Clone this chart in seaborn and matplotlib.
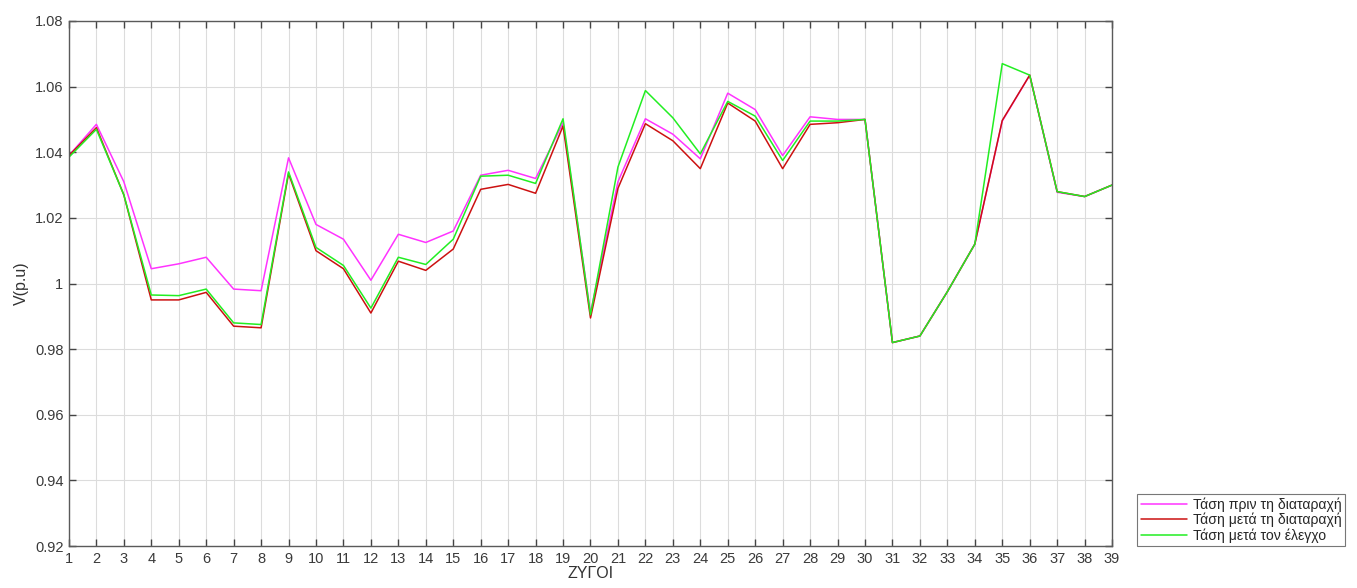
import numpy as np
import pandas as pd
import matplotlib
matplotlib.use("Agg")
import matplotlib.pyplot as plt
import matplotlib.ticker as mticker
import seaborn as sns

# ---- data ----
buses = list(range(1, 40))

v_before = [1.039, 1.0485, 1.031, 1.0045, 1.006, 1.008, 0.9983, 0.9978, 1.0383, 1.018,
            1.0135, 1.001, 1.015, 1.0125, 1.016, 1.033, 1.0345, 1.032, 1.049, 0.991,
            1.031, 1.0502, 1.0455, 1.038, 1.058, 1.053, 1.039, 1.0508, 1.050, 1.050,
            0.982, 0.984, 0.9975, 1.012, 1.0495, 1.0635, 1.0278, 1.0265, 1.030]

v_after = [1.039, 1.0475, 1.027, 0.995, 0.995, 0.9973, 0.987, 0.9865, 1.0335, 1.010,
           1.0045, 0.991, 1.0068, 1.004, 1.0105, 1.0287, 1.0302, 1.0275, 1.048, 0.9895,
           1.029, 1.0487, 1.0435, 1.035, 1.055, 1.0495, 1.035, 1.0485, 1.049, 1.050,
           0.982, 0.984, 0.9975, 1.012, 1.0497, 1.0635, 1.028, 1.0265, 1.030]

v_control = [1.0385, 1.047, 1.027, 0.9965, 0.9963, 0.9983, 0.988, 0.9875, 1.034, 1.011,
             1.0055, 0.9925, 1.008, 1.0058, 1.0135, 1.0327, 1.033, 1.0305, 1.0502, 0.9905,
             1.0355, 1.0588, 1.0505, 1.0395, 1.0555, 1.051, 1.0375, 1.0495, 1.0495, 1.050,
             0.982, 0.984, 0.9975, 1.012, 1.067, 1.0635, 1.028, 1.0265, 1.030]

labels = ["Τάση πριν τη διαταραχή", "Τάση μετά τη διαταραχή", "Τάση μετά τον έλεγχο"]
colors = ["#ff33ff", "#cc1111", "#22ee22"]

df = pd.DataFrame({
    "bus": buses * 3,
    "V": v_before + v_after + v_control,
    "series": [labels[0]] * 39 + [labels[1]] * 39 + [labels[2]] * 39,
})

# ---- style ----
sns.set_style("whitegrid")
plt.rcParams["font.family"] = ["Liberation Sans", "DejaVu Sans"]

fig = plt.figure(figsize=(13.57, 5.88), dpi=100)
ax = fig.add_axes([0.0508, 0.0714, 0.7687, 0.8929])

sns.lineplot(data=df, x="bus", y="V", hue="series", hue_order=labels,
             palette=colors, linewidth=1.1, ax=ax, legend=True)

ax.set_xlim(1, 39)
ax.set_ylim(0.92, 1.08)
ax.set_xticks(buses)
ax.set_yticks(np.arange(0.92, 1.0801, 0.02))
ax.yaxis.set_major_formatter(mticker.FuncFormatter(lambda v, p: "%g" % round(v, 2)))

ax.grid(True, color="#dcdcdc", linewidth=0.8)
for s in ax.spines.values():
    s.set_color("#5a5a5a")
    s.set_linewidth(1.0)
    s.set_visible(True)

ax.tick_params(axis="both", direction="in", length=5, width=1, color="#444444",
               labelsize=10.5, labelcolor="#3a3a3a", top=True, right=True,
               bottom=True, left=True, pad=4)

ax.set_xlabel("ΖΥΓΟΙ", fontsize=11.5, color="#333333", labelpad=0)
ax.set_ylabel("V(p.u)", fontsize=11.5, color="#333333", labelpad=4)

leg = ax.legend(loc="lower left", bbox_to_anchor=(1.024, 0.0), fontsize=10.1,
                frameon=True, fancybox=False, edgecolor="#555555",
                borderpad=0.25, handlelength=3.3, handletextpad=0.4,
                labelspacing=0.05, borderaxespad=0)
leg.get_frame().set_linewidth(0.8)

fig.savefig("out.png", dpi=100)
